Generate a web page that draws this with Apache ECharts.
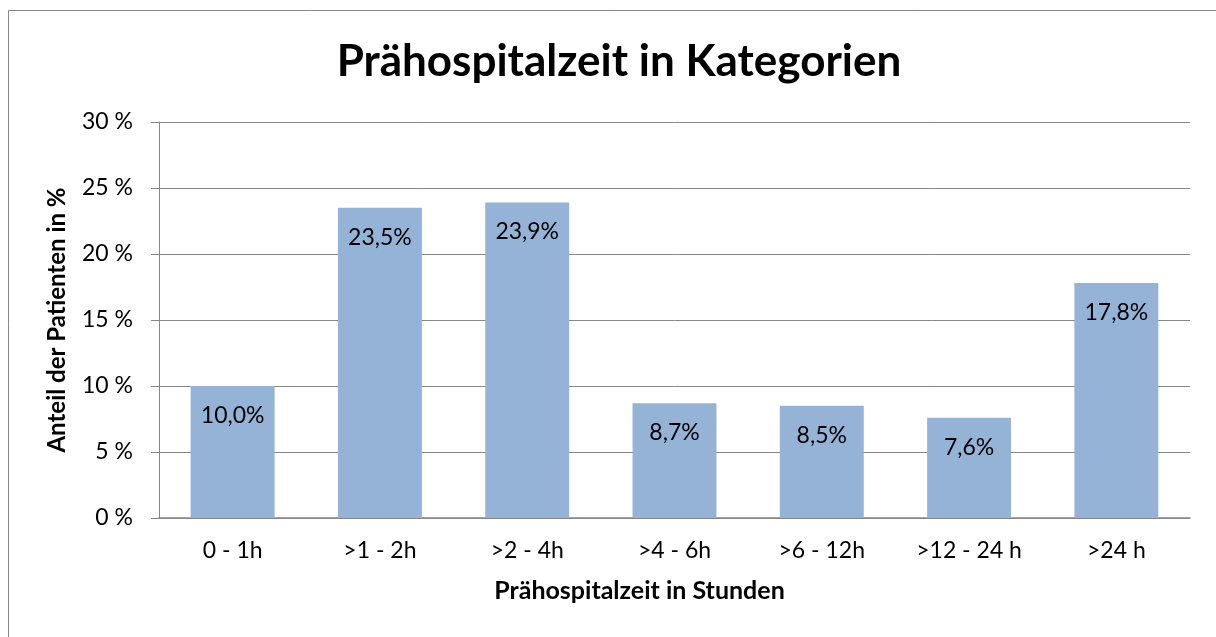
<!DOCTYPE html>
<html>
<head>
<meta charset="utf-8">
<script src="https://cdn.jsdelivr.net/npm/echarts@6/dist/echarts.min.js"></script>
<style>
  html, body { margin: 0; padding: 0; background: #fff; }
  #chart { width: 1216px; height: 637px; }
</style>
</head>
<body>
<div id="chart"></div>
<script>
// Prähospitalzeit in Kategorien - Säulendiagramm
var kategorien = ['0 - 1h', '>1 - 2h', '>2 - 4h', '>4 - 6h', '>6 - 12h', '>12 - 24 h', '>24 h'];
var anteile = [10.0, 23.5, 23.9, 8.7, 8.5, 7.6, 17.8];
var yTicks = [0, 5, 10, 15, 20, 25, 30];

var schrift = 'Lato, "Open Sans", sans-serif';
var grau = '#878787';

var chart = echarts.init(document.getElementById('chart'));

var option = {
  animation: false,
  textStyle: { fontFamily: schrift, color: '#000' },
  title: {
    text: 'Prähospitalzeit in Kategorien',
    left: 614,
    textAlign: 'center',
    top: 35,
    textStyle: { fontFamily: schrift, fontSize: 44, fontWeight: 'bold', color: '#000' }
  },
  // Rahmen um das Diagramm
  graphic: [{
    type: 'rect',
    shape: { x: 8.5, y: 10.5, width: 1400, height: 800 },
    style: { fill: 'none', stroke: grau, lineWidth: 1 },
    silent: true
  }],
  grid: { left: 159, right: 26, top: 122, bottom: 119 },
  xAxis: {
    type: 'category',
    data: kategorien,
    name: 'Prähospitalzeit in Stunden',
    nameLocation: 'middle',
    nameGap: 60,
    nameTextStyle: { fontFamily: schrift, fontSize: 25, fontWeight: 'bold', color: '#000', padding: [0, 70, 0, 0] },
    axisLine: { lineStyle: { color: grau, width: 1.5 } },
    axisTick: { show: false },
    axisLabel: { fontFamily: schrift, fontSize: 23, color: '#000', margin: 21 }
  },
  yAxis: {
    type: 'value',
    min: yTicks[0],
    max: yTicks[yTicks.length - 1],
    interval: 5,
    name: 'Anteil der Patienten in %',
    nameLocation: 'middle',
    nameGap: 90,
    nameRotate: 90,
    nameTextStyle: { fontFamily: schrift, fontSize: 24, fontWeight: 'bold', color: '#000' },
    axisLine: { show: true, lineStyle: { color: grau, width: 1 } },
    axisTick: { show: true, length: 8, lineStyle: { color: grau } },
    splitLine: { lineStyle: { color: grau, width: 1 } },
    axisLabel: {
      fontFamily: schrift, fontSize: 23, color: '#000', margin: 26,
      formatter: function (v) { return v + ' %'; }
    }
  },
  series: [{
    type: 'bar',
    data: anteile,
    barCategoryGap: '43%',
    itemStyle: { color: '#95B3D7' },
    label: {
      show: true,
      position: 'insideTop',
      distance: 18,
      fontFamily: schrift,
      fontSize: 23,
      color: '#000',
      formatter: function (p) { return p.value.toFixed(1).replace('.', ',') + '%'; }
    }
  }]
};

chart.setOption(option);
</script>
</body>
</html>
